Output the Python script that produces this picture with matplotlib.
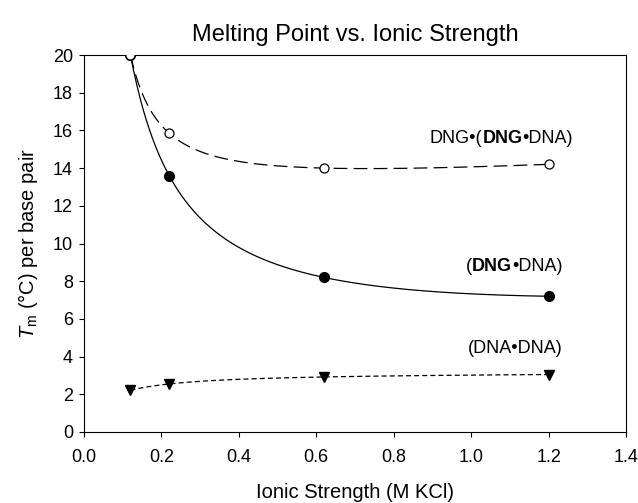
import numpy as np
import matplotlib
matplotlib.use("Agg")
import matplotlib.pyplot as plt

plt.rcParams['font.family'] = ['Liberation Sans', 'DejaVu Sans']
plt.rcParams['mathtext.fontset'] = 'custom'
plt.rcParams['mathtext.rm'] = 'Liberation Sans'
plt.rcParams['mathtext.it'] = 'Liberation Sans:italic'

ionic = [0.12, 0.22, 0.62, 1.2]
dng_dng_dna = [20.0, 15.85, 14.0, 14.2]
dng_dna = [20.0, 13.6, 8.2, 7.2]
dna_dna = [2.22, 2.55, 2.92, 3.05]

xticks = [0.0, 0.2, 0.4, 0.6, 0.8, 1.0, 1.2, 1.4]
yticks = list(range(0, 21, 2))


def smooth(x, y, basis):
    x = np.asarray(x, float)
    y = np.asarray(y, float)
    A = np.column_stack([f(x) for f in basis])
    coef, *_ = np.linalg.lstsq(A, y, rcond=None)
    xs = np.linspace(x.min(), x.max(), 400)
    ys = np.column_stack([f(xs) for f in basis]) @ coef
    return xs, ys


fig = plt.figure(figsize=(6.38, 5.03), dpi=100)
L, R, T, B = 84, 626, 55, 432
ax = fig.add_axes([L / 638, 1 - B / 503, (R - L) / 638, (B - T) / 503])

basis = [lambda x: np.ones_like(x), lambda x: 1 / x, lambda x: 1 / x ** 2, lambda x: x]

xs, ys = smooth(ionic, dng_dng_dna, basis)
ax.plot(xs, ys, color='black', lw=0.9, dashes=(11, 5))
xs, ys = smooth(ionic, dng_dna, basis)
ax.plot(xs, ys, color='black', lw=0.9)
xs, ys = smooth(ionic, dna_dna, basis)
ax.plot(xs, ys, color='black', lw=0.9, dashes=(4, 2.5))

ax.plot(ionic, dng_dna, 'o', color='black', ms=7, zorder=3)
ax.plot(ionic, dna_dna, 'v', color='black', ms=7, zorder=3)
ax.plot(ionic, dng_dng_dna, 'o', mfc='white', mec='black', mew=0.9, ms=6.5, zorder=4)

ax.set_xlim(0, 1.4)
ax.set_ylim(0, 20)
ax.set_xticks(xticks)
ax.set_xticklabels([f"{v:.1f}" for v in xticks])
ax.set_yticks(yticks)
ax.tick_params(direction='out', length=3.5, width=0.8, labelsize=13)
ax.tick_params(axis='x', pad=9)
ax.tick_params(axis='y', pad=4.5)
for s in ax.spines.values():
    s.set_linewidth(0.8)

ax.set_title('Melting Point vs. Ionic Strength', fontsize=17, pad=10)
ax.set_xlabel('Ionic Strength (M KCl)', fontsize=14.5, labelpad=12)
ax.set_ylabel(r'$T_{\mathrm{m}}$ (°C) per base pair', fontsize=14.5, labelpad=9)


def label(parts, x, y):
    # parts: list of (text, bold); right aligned at (x, y) in data coords
    prev = None
    for txt, bold in reversed(parts):
        kw = dict(fontsize=13, fontweight='bold' if bold else 'normal', va='center', ha='right')
        if prev is None:
            prev = ax.text(x, y, txt, **kw)
        else:
            prev = ax.annotate(txt, xy=(0, 0.5), xycoords=prev, **kw)


label([('DNG•(', False), ('DNG', True), ('•DNA)', False)], 1.263, 15.58)
label([('(', False), ('DNG', True), ('•DNA)', False)], 1.236, 8.77)
label([('(DNA•DNA)', False)], 1.236, 4.44)

fig.savefig('out.png', dpi=100)
